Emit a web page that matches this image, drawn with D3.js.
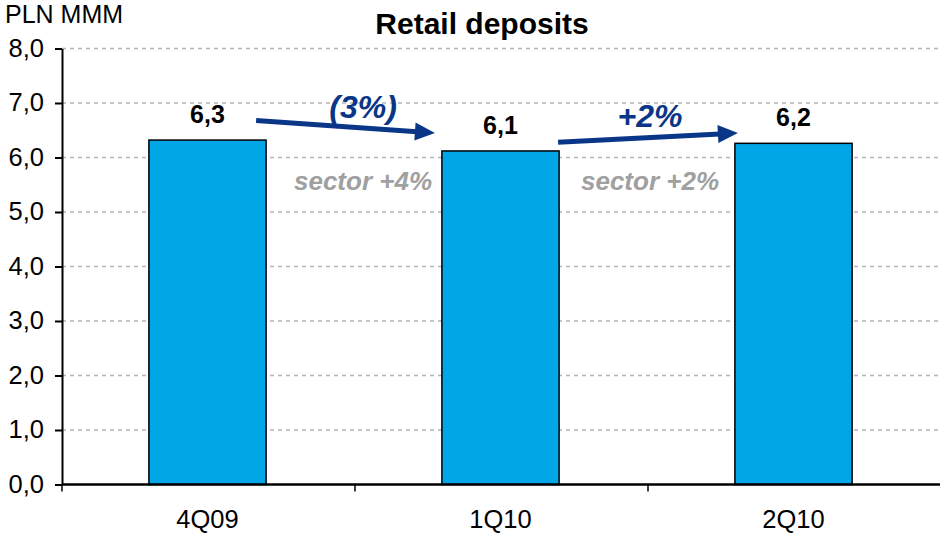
<!DOCTYPE html>
<html>
<head>
<meta charset="utf-8">
<script src="https://cdn.jsdelivr.net/npm/d3@7/dist/d3.min.js"></script>
<style>
  html, body { margin: 0; padding: 0; background: #fff; }
  svg { display: block; font-family: "Liberation Sans", Arial, sans-serif; }
</style>
</head>
<body>
<svg id="chart" width="940" height="534"></svg>
<script>
// Retail deposits, PLN bn
const categories = ["4Q09", "1Q10", "2Q10"];
const values = [6.32, 6.12, 6.26];
const valueLabels = ["6,3", "6,1", "6,2"];
const yTicks = [0, 1, 2, 3, 4, 5, 6, 7, 8];
const yTickLabels = ["0,0", "1,0", "2,0", "3,0", "4,0", "5,0", "6,0", "7,0", "8,0"];

// Quarter-on-quarter change arrows and sector comparison
const changeLabels = ["(3%)", "+2%"];
const sectorLabels = ["sector +4%", "sector +2%"];
const arrowStartY = [6.68, 6.28];
const arrowEndY = [6.45, 6.45];

const svg = d3.select("#chart");

const x = d3.scaleBand()
  .domain(categories)
  .range([61, 940])
  .paddingInner(0.6)
  .paddingOuter(0.3);

const y = d3.scaleLinear().domain([0, 8]).range([484.5, 48.5]);

// Gridlines
svg.append("g")
  .selectAll("line")
  .data(yTicks.filter(d => d > 0))
  .join("line")
  .attr("x1", 62).attr("x2", 940)
  .attr("y1", d => y(d)).attr("y2", d => y(d))
  .attr("stroke", "#b4b4b4")
  .attr("stroke-width", 1.3)
  .attr("stroke-dasharray", "4,4");

// Bars
svg.append("g")
  .selectAll("rect")
  .data(values)
  .join("rect")
  .attr("x", (d, i) => x(categories[i]))
  .attr("y", d => y(d))
  .attr("width", x.bandwidth())
  .attr("height", d => y(0) - y(d))
  .attr("fill", "#00a6e6")
  .attr("stroke", "#000")
  .attr("stroke-width", 1.5);

// Y axis
const yAxis = d3.axisLeft(y)
  .tickValues(yTicks)
  .tickFormat((d, i) => yTickLabels[i])
  .tickSizeInner(7)
  .tickSizeOuter(0)
  .tickPadding(11);
const gy = svg.append("g").attr("transform", "translate(62,0)").call(yAxis);
gy.select(".domain").attr("stroke", "#000").attr("stroke-width", 2);
gy.selectAll(".tick line").attr("stroke", "#000").attr("stroke-width", 2);
gy.selectAll(".tick text")
  .attr("font-size", 25.5)
  .attr("font-family", "Liberation Sans, Arial, sans-serif")
  .attr("fill", "#000")
  .attr("dy", "0.3em");

// X axis
const xLine = d3.scaleLinear().domain([0, 3]).range([61, 940]);
svg.append("line")
  .attr("x1", 62).attr("x2", 940)
  .attr("y1", y(0)).attr("y2", y(0))
  .attr("stroke", "#000").attr("stroke-width", 2.5);
svg.append("g")
  .selectAll("line")
  .data([0, 1, 2, 3])
  .join("line")
  .attr("x1", d => xLine(d) + 1).attr("x2", d => xLine(d) + 1)
  .attr("y1", y(0)).attr("y2", y(0) + 7)
  .attr("stroke", "#000").attr("stroke-width", 1.5);
svg.append("g")
  .selectAll("text")
  .data(categories)
  .join("text")
  .attr("x", d => x(d) + x.bandwidth() / 2)
  .attr("y", 528)
  .attr("text-anchor", "middle")
  .attr("font-size", 25.5)
  .attr("fill", "#000")
  .text(d => d);

// Value labels
svg.append("g")
  .selectAll("text")
  .data(values)
  .join("text")
  .attr("x", (d, i) => x(categories[i]) + x.bandwidth() / 2)
  .attr("y", d => y(d) - 17)
  .attr("text-anchor", "middle")
  .attr("font-size", 25)
  .attr("font-weight", "bold")
  .attr("fill", "#000")
  .text((d, i) => valueLabels[i]);

// Title and unit
svg.append("text")
  .attr("x", 482).attr("y", 34)
  .attr("text-anchor", "middle")
  .attr("font-size", 30)
  .attr("font-weight", "bold")
  .attr("fill", "#000")
  .text("Retail deposits");
svg.append("text")
  .attr("x", 5).attr("y", 23)
  .attr("font-size", 25)
  .attr("fill", "#000")
  .text("PLN MMM");

// Change arrows between consecutive bars
const arrowColor = "#0a3688";
const arrows = changeLabels.map((lbl, i) => {
  const x0 = x(categories[i]) + x.bandwidth() - 10 + (i === 1 ? 9 : 0);
  const x1 = x(categories[i + 1]) - 7 + (i === 1 ? 10 : 0);
  return { x0, y0: y(arrowStartY[i]), x1, y1: y(arrowEndY[i]), lbl, sector: sectorLabels[i] };
});

const ga = svg.append("g");
arrows.forEach(a => {
  const ang = Math.atan2(a.y1 - a.y0, a.x1 - a.x0);
  const headLen = 20, headW = 9;
  const bx = a.x1 - headLen * Math.cos(ang), by = a.y1 - headLen * Math.sin(ang);
  ga.append("line")
    .attr("x1", a.x0).attr("y1", a.y0)
    .attr("x2", bx + 2 * Math.cos(ang)).attr("y2", by + 2 * Math.sin(ang))
    .attr("stroke", arrowColor).attr("stroke-width", 5);
  const px = -Math.sin(ang), py = Math.cos(ang);
  ga.append("path")
    .attr("d", d3.line()([
      [a.x1, a.y1],
      [bx + headW * px, by + headW * py],
      [bx - headW * px, by - headW * py]
    ]) + "Z")
    .attr("fill", arrowColor);
});

const labelX = [363, 650];
const changeY = [118, 127];
svg.append("g")
  .selectAll("text")
  .data(arrows)
  .join("text")
  .attr("x", (d, i) => labelX[i])
  .attr("y", (d, i) => changeY[i])
  .attr("text-anchor", "middle")
  .attr("font-size", 32)
  .attr("font-weight", "bold")
  .attr("font-style", "italic")
  .attr("fill", arrowColor)
  .text(d => d.lbl);

svg.append("g")
  .selectAll("text")
  .data(arrows)
  .join("text")
  .attr("x", (d, i) => labelX[i])
  .attr("y", 190)
  .attr("text-anchor", "middle")
  .attr("font-size", 26)
  .attr("font-weight", "bold")
  .attr("font-style", "italic")
  .attr("fill", "#a0a0a0")
  .text(d => d.sector);
</script>
</body>
</html>
